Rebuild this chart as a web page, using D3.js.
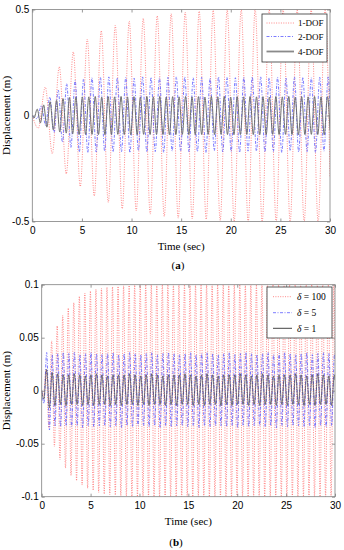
<!DOCTYPE html>
<html>
<head>
<meta charset="utf-8">
<script src="https://cdn.jsdelivr.net/npm/d3@7"></script>
<style>
body { margin: 0; background: #fff; }
svg { display: block; }
text { font-weight: normal; }
</style>
</head>
<body>
<div id="chart"></div>
<script>
// axis ticks
const xTicks = [0, 5, 10, 15, 20, 25, 30];
const yTicksA = [-0.5, 0, 0.5];
const yTicksB = [-0.1, -0.05, 0, 0.05, 0.1];

// legends
const legendA = ["1-DOF", "2-DOF", "4-DOF"];
const legendB = ["100", "5", "1"];

// (a) successive extrema (m), one every half period
const dof1Start = 0.605, dof1Half = 0.705, dof1End = -0.29;
const dof1Peaks = [
  -0.06, 0.134, -0.18, 0.23, -0.275, 0.30, -0.335, 0.36, -0.38, 0.40,
  -0.41, 0.425, -0.44, 0.445, -0.45, 0.458, -0.465, 0.47, -0.476, 0.48,
  -0.484, 0.487, -0.487, 0.492, -0.49, 0.496, -0.495, 0.5, -0.5,
  0.502, -0.502, 0.502, -0.502, 0.502, -0.502, 0.502, -0.502, 0.502, -0.502, 0.502, -0.502, 0.502
];

const dof2Start = 0.49, dof2Half = 0.425, dof2End = 0.04;
const dof2Peaks = [
  -0.015, 0.047, -0.047, 0.087, -0.08, 0.12, -0.126, 0.15, -0.15, 0.166, -0.172, 0.172, -0.175, 0.178, -0.172, 0.18,
  -0.168, 0.182, -0.172, 0.178, -0.17, 0.18, -0.175, 0.176, -0.166, 0.182, -0.172, 0.18, -0.17, 0.178, -0.174, 0.18, -0.168, 0.182,
  -0.168, 0.182, -0.172, 0.178, -0.17, 0.18, -0.175, 0.176, -0.166, 0.182, -0.172, 0.18, -0.17, 0.178, -0.174, 0.18, -0.168, 0.182,
  -0.168, 0.182, -0.172, 0.178, -0.17, 0.18, -0.175, 0.176, -0.166, 0.182, -0.172, 0.18, -0.17, 0.178, -0.174, 0.18, -0.168, 0.182
];

const dof4Start = 0.17, dof4Half = 0.325, dof4End = -0.07;
const dof4Peaks = [
  -0.012, 0.03, -0.035, 0.05, -0.055, 0.065, -0.068, 0.072, -0.078, 0.08, -0.083, 0.085, -0.087, 0.087, -0.09, 0.088,
  -0.09, 0.088, -0.089, 0.09, -0.09, 0.087, -0.091, 0.089, -0.09, 0.088, -0.089, 0.09, -0.09, 0.088, -0.091, 0.089, -0.09, 0.087, -0.089, 0.09,
  -0.09, 0.088, -0.089, 0.09, -0.09, 0.087, -0.091, 0.089, -0.09, 0.088, -0.089, 0.09, -0.09, 0.088, -0.091, 0.089, -0.09, 0.087, -0.089, 0.09,
  -0.09, 0.088, -0.089, 0.09, -0.09, 0.087, -0.091, 0.089, -0.09, 0.088, -0.089, 0.09, -0.09, 0.088, -0.091, 0.089, -0.09, 0.087, -0.089, 0.09,
  -0.09, 0.088, -0.089, 0.09, -0.09, 0.087, -0.091, 0.089, -0.09, 0.088, -0.089, 0.09, -0.09, 0.088, -0.091, 0.089
];

// (b) same idea
const d100Start = 0.17, d100Half = 0.283, d100End = 0.03;
const d100Peaks = [
  -0.005, 0.02, -0.035, 0.047, -0.053, 0.061, -0.065, 0.071, -0.073, 0.078, -0.08, 0.083, -0.085, 0.089, -0.089, 0.092, -0.092,
  0.094, -0.094, 0.0956, -0.096, 0.0965, -0.0975, 0.0975, -0.098, 0.098, -0.0985, 0.0985, -0.099, 0.099, -0.0993, 0.0993, -0.0996, 0.0996,
  -0.1, 0.1, -0.1, 0.1, -0.1, 0.1, -0.1, 0.1, -0.1, 0.1, -0.1, 0.1, -0.1, 0.1, -0.1, 0.1, -0.1, 0.1, -0.1, 0.1, -0.1, 0.1, -0.1, 0.1,
  -0.1, 0.1, -0.1, 0.1, -0.1, 0.1, -0.1, 0.1, -0.1, 0.1, -0.1, 0.1, -0.1, 0.1, -0.1, 0.1, -0.1, 0.1, -0.1, 0.1, -0.1, 0.1, -0.1, 0.1,
  -0.1, 0.1, -0.1, 0.1, -0.1, 0.1, -0.1, 0.1, -0.1, 0.1, -0.1, 0.1, -0.1, 0.1, -0.1, 0.1, -0.1, 0.1, -0.1, 0.1, -0.1, 0.1, -0.1, 0.1
];

const d5Start = 0.227, d5Half = 0.283, d5End = 0.03;
const d5Peaks = [
  -0.012, 0.036, -0.037, 0.034, -0.033, 0.035, -0.034, 0.036,
  -0.033, 0.035, -0.034, 0.036, -0.033, 0.034, -0.035, 0.035, -0.033, 0.036, -0.034, 0.035, -0.033, 0.034,
  -0.033, 0.035, -0.034, 0.036, -0.033, 0.034, -0.035, 0.035, -0.033, 0.036, -0.034, 0.035, -0.033, 0.034,
  -0.033, 0.035, -0.034, 0.036, -0.033, 0.034, -0.035, 0.035, -0.033, 0.036, -0.034, 0.035, -0.033, 0.034,
  -0.033, 0.035, -0.034, 0.036, -0.033, 0.034, -0.035, 0.035, -0.033, 0.036, -0.034, 0.035, -0.033, 0.034,
  -0.033, 0.035, -0.034, 0.036, -0.033, 0.034, -0.035, 0.035, -0.033, 0.036, -0.034, 0.035, -0.033, 0.034,
  -0.033, 0.035, -0.034, 0.036, -0.033, 0.034, -0.035, 0.035, -0.033, 0.036, -0.034, 0.035, -0.033, 0.034,
  -0.033, 0.035, -0.034, 0.036, -0.033, 0.034, -0.035, 0.035, -0.033, 0.036, -0.034, 0.035, -0.033, 0.034
];

const d1Start = 0.22, d1Half = 0.283, d1End = 0.01;
const d1Peaks = [
  -0.008, 0.02, -0.016, 0.017, -0.014, 0.016,
  -0.013, 0.015, -0.014, 0.015, -0.013, 0.016, -0.013, 0.015, -0.014, 0.014, -0.013, 0.015, -0.014, 0.016, -0.013, 0.015, -0.013, 0.014, -0.014, 0.015,
  -0.013, 0.015, -0.014, 0.015, -0.013, 0.016, -0.013, 0.015, -0.014, 0.014, -0.013, 0.015, -0.014, 0.016, -0.013, 0.015, -0.013, 0.014, -0.014, 0.015,
  -0.013, 0.015, -0.014, 0.015, -0.013, 0.016, -0.013, 0.015, -0.014, 0.014, -0.013, 0.015, -0.014, 0.016, -0.013, 0.015, -0.013, 0.014, -0.014, 0.015,
  -0.013, 0.015, -0.014, 0.015, -0.013, 0.016, -0.013, 0.015, -0.014, 0.014, -0.013, 0.015, -0.014, 0.016, -0.013, 0.015, -0.013, 0.014, -0.014, 0.015,
  -0.013, 0.015, -0.014, 0.015, -0.013, 0.016, -0.013, 0.015, -0.014, 0.014, -0.013, 0.015, -0.014, 0.016, -0.013, 0.015, -0.013, 0.014, -0.014, 0.015
];

const SANS = "'Liberation Sans', Arial, sans-serif";
const SERIF = "'Liberation Serif', 'Times New Roman', serif";
const FRAME = "#808080";

const RED = { stroke: "#ff6b6b", width: 0.8, dash: "1,1.4" };
const BLUE = { stroke: "#5a5aff", width: 0.8, dash: "3,1.5,1,1.5" };

function buildSeries(peaks, start, half, endValue) {
  const pts = [{ t: 0, v: 0 }];
  peaks.forEach((v, i) => {
    const t = start + i * half;
    if (t < 30) pts.push({ t: t, v: v });
  });
  pts.push({ t: 30, v: endValue });
  return pts;
}

const svg = d3.select("#chart").append("svg")
  .attr("width", 344)
  .attr("height", 550);

function drawPanel(p) {
  const x = d3.scaleLinear().domain([0, 30]).range([p.left, p.right]);
  const y = d3.scaleLinear().domain(p.yDomain).range([p.bottom, p.top]);

  const g = svg.append("g");

  g.append("clipPath").attr("id", p.id + "-clip")
    .append("rect")
    .attr("x", p.left).attr("y", p.top)
    .attr("width", p.right - p.left).attr("height", p.bottom - p.top);

  const line = d3.line()
    .x(d => x(d.t))
    .y(d => y(d.v))
    .curve(d3.curveMonotoneX);

  const plot = g.append("g").attr("clip-path", `url(#${p.id}-clip)`);
  p.series.forEach(s => {
    plot.append("path")
      .datum(s.data)
      .attr("d", line)
      .attr("fill", "none")
      .attr("stroke", s.style.stroke)
      .attr("stroke-width", s.style.width)
      .attr("stroke-dasharray", s.style.dash)
      .attr("stroke-linejoin", "round");
  });

  // axes, matlab style: ticks inside, mirrored on top / right
  const bottom = g.append("g").attr("transform", `translate(0,${p.bottom})`)
    .call(d3.axisBottom(x).tickValues(xTicks).tickSizeInner(-3).tickSizeOuter(0).tickPadding(5));
  const top = g.append("g").attr("transform", `translate(0,${p.top})`)
    .call(d3.axisTop(x).tickValues(xTicks).tickSizeInner(-3).tickSizeOuter(0).tickFormat(""));
  const left = g.append("g").attr("transform", `translate(${p.left},0)`)
    .call(d3.axisLeft(y).tickValues(p.yTicks).tickSizeInner(-3).tickSizeOuter(0).tickPadding(3).tickFormat(d => String(d)));
  const right = g.append("g").attr("transform", `translate(${p.right},0)`)
    .call(d3.axisRight(y).tickValues(p.yTicks).tickSizeInner(-3).tickSizeOuter(0).tickFormat(""));

  [bottom, top, left, right].forEach(a => {
    a.select(".domain").remove();
    a.selectAll(".tick line").attr("stroke", FRAME).attr("stroke-width", 0.8);
    a.selectAll("text").attr("fill", "#000").style("font-family", SANS).style("font-size", "10px");
  });

  g.append("rect")
    .attr("x", p.left).attr("y", p.top)
    .attr("width", p.right - p.left).attr("height", p.bottom - p.top)
    .attr("fill", "none").attr("stroke", FRAME).attr("stroke-width", 0.8);

  // axis titles
  g.append("text")
    .attr("x", (p.left + p.right) / 2)
    .attr("y", p.bottom + 28.5)
    .attr("text-anchor", "middle")
    .style("font-family", SERIF).style("font-size", "11px")
    .text("Time (sec)");

  g.append("text")
    .attr("transform", `translate(10,${(p.top + p.bottom) / 2}) rotate(-90)`)
    .attr("text-anchor", "middle")
    .style("font-family", SERIF).style("font-size", "11px")
    .text("Displacement (m)");

  const cap = g.append("text")
    .attr("x", p.capX).attr("y", p.capY)
    .attr("text-anchor", "middle")
    .style("font-family", SERIF).style("font-size", "11px");
  cap.append("tspan").text("(");
  cap.append("tspan").style("font-weight", "bold").text(p.letter);
  cap.append("tspan").text(")");

  // legend
  const L = p.legend;
  g.append("rect")
    .attr("x", L.x).attr("y", L.y).attr("width", L.w).attr("height", L.h)
    .attr("fill", "#fff").attr("stroke", "#333").attr("stroke-width", 0.8);
  p.series.forEach((s, i) => {
    const yy = L.rows[i];
    g.append("line")
      .attr("x1", L.lx1).attr("x2", L.lx2).attr("y1", yy).attr("y2", yy)
      .attr("stroke", s.style.legendStroke || s.style.stroke)
      .attr("stroke-width", s.style.legendWidth || s.style.width)
      .attr("stroke-dasharray", s.style.dash);
    const t = g.append("text")
      .attr("x", L.tx).attr("y", yy + 3.3)
      .style("font-family", SERIF).style("font-size", L.fontSize);
    if (p.delta) {
      t.append("tspan").attr("font-style", "italic").text("δ");
      t.append("tspan").text(" = " + s.label);
    } else {
      t.text(s.label);
    }
  });
}

drawPanel({
  id: "a", letter: "a",
  left: 32.3, right: 330, top: 9.5, bottom: 221.5,
  yDomain: [-0.5, 0.5], yTicks: yTicksA,
  capX: 178, capY: 269,
  delta: false,
  series: [
    { label: legendA[0], data: buildSeries(dof1Peaks, dof1Start, dof1Half, dof1End), style: RED },
    { label: legendA[1], data: buildSeries(dof2Peaks, dof2Start, dof2Half, dof2End), style: BLUE },
    { label: legendA[2], data: buildSeries(dof4Peaks, dof4Start, dof4Half, dof4End), style: { stroke: "#6e6e6e", width: 1, dash: null, legendWidth: 1.8, legendStroke: "#8a8a8a" } }
  ],
  legend: { x: 262, y: 14, w: 65, h: 48, rows: [23, 36.5, 51.5], lx1: 266.5, lx2: 294, tx: 298, fontSize: "9px" }
});

drawPanel({
  id: "b", letter: "b",
  left: 41.7, right: 335, top: 284.7, bottom: 496.7,
  yDomain: [-0.1, 0.1], yTicks: yTicksB,
  capX: 176, capY: 546,
  delta: true,
  series: [
    { label: legendB[0], data: buildSeries(d100Peaks, d100Start, d100Half, d100End), style: RED },
    { label: legendB[1], data: buildSeries(d5Peaks, d5Start, d5Half, d5End), style: BLUE },
    { label: legendB[2], data: buildSeries(d1Peaks, d1Start, d1Half, d1End), style: { stroke: "#444", width: 0.7, dash: null, legendWidth: 1 } }
  ],
  legend: { x: 267, y: 287, w: 65, h: 51, rows: [296.7, 312.7, 328.3], lx1: 273, lx2: 292, tx: 297, fontSize: "9.5px" }
});
</script>
</body>
</html>
